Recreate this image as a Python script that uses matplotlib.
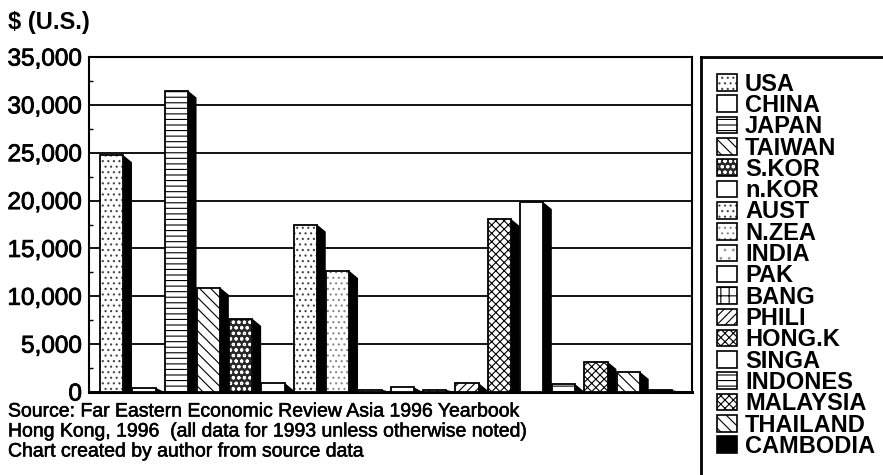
import matplotlib
matplotlib.use("Agg")
import matplotlib.pyplot as plt
import matplotlib.patheffects as pe
from matplotlib.patches import Rectangle
from matplotlib.lines import Line2D
import numpy as np

# data: GDP per capita, 1993
countries = ["USA", "CHINA", "JAPAN", "TAIWAN", "S.KOR", "n.KOR", "AUST", "N.ZEA",
             "INDIA", "PAK", "BANG", "PHILI", "HONG.K", "SINGA", "INDONES",
             "MALAYSIA", "THAILAND", "CAMBODIA"]
gdp = [24750, 450, 31500, 10900, 7650, 950, 17500, 12650,
       250, 500, 220, 950, 18100, 19850, 800,
       3150, 2100, 200]
y_ticks = [0, 5000, 10000, 15000, 20000, 25000, 30000, 35000]
y_label = "$ (U.S.)"
source_lines = [
    "Source: Far Eastern Economic Review Asia 1996 Yearbook",
    "Hong Kong, 1996  (all data for 1993 unless otherwise noted)",
    "Chart created by author from source data",
]

# fill styles (facecolor, hatch, hatch colour)
styles = [
    ("white", "...", "#444444"),   # USA
    ("white", "", "black"),        # CHINA
    ("white", "---", "black"),     # JAPAN
    ("white", "\\\\\\", "black"),  # TAIWAN
    ("#2a2a2a", "ooo", "white"),   # S.KOR
    ("white", "", "black"),        # n.KOR
    ("white", "...", "#444444"),   # AUST
    ("white", "...", "#888888"),   # N.ZEA
    ("white", "..", "#999999"),    # INDIA
    ("white", "", "black"),        # PAK
    ("white", "++", "black"),      # BANG
    ("white", "////", "black"),    # PHILI
    ("white", "xxxx", "black"),    # HONG.K
    ("white", "", "black"),        # SINGA
    ("white", "---", "black"),     # INDONES
    ("white", "xxxx", "black"),    # MALAYSIA
    ("white", "\\\\\\", "black"),  # THAILAND
    ("black", "", "black"),        # CAMBODIA
]

plt.rcParams["font.family"] = ["Liberation Sans", "DejaVu Sans"]
plt.rcParams["hatch.linewidth"] = 0.8

W, H = 883, 475
fig = plt.figure(figsize=(W / 100, H / 100), dpi=100)


def fx(px):
    return px / W


def fy(py):
    return 1 - py / H


heavy = [pe.withStroke(linewidth=0.6, foreground="black")]

ax = fig.add_axes([fx(89), fy(392), fx(692) - fx(89), fy(57) - fy(392)])

x = np.arange(len(countries))
face_w = 0.72
depth_x = 0.27
depth_y = 750

# shadow (3D side) drawn first
for xi, v in zip(x, gdp):
    xr = xi + face_w
    ax.fill([xr, xr + depth_x, xr + depth_x, xr],
            [v, max(v - depth_y, 0), 0, 0], color="black", lw=0, zorder=3)

for xi, v, (fc, hatch, hc) in zip(x, gdp, styles):
    ax.bar(xi, v, width=face_w, align="edge", color=fc, hatch=hatch,
           edgecolor=hc, linewidth=0, zorder=4)
ax.bar(x, gdp, width=face_w, align="edge", fill=False, edgecolor="black",
       linewidth=1.3, zorder=5)

ax.set_xlim(-0.34, 18.33)
ax.set_ylim(0, 35000)
ax.set_xticks([])
ax.set_yticks(y_ticks)
ax.set_yticklabels([f"{t:,}" for t in y_ticks], fontsize=17.5)
for lbl in ax.get_yticklabels():
    lbl.set_path_effects(heavy)
ax.set_yticks(np.arange(2500, 35000, 5000), minor=True)
ax.tick_params(axis="y", which="major", length=0, pad=5)
ax.tick_params(axis="y", which="minor", direction="in", length=3, width=1)
ax.grid(axis="y", which="major", color="black", linewidth=1.3, zorder=1)
for side in ["left", "right", "top"]:
    ax.spines[side].set_linewidth(1.5)
ax.spines["bottom"].set_linewidth(2.2)

fig.text(fx(8), fy(22), y_label, fontsize=17, fontweight="bold", va="center")

for i, line in enumerate(source_lines):
    fig.text(fx(8), fy(412 + 20 * i), line, fontsize=14, va="center",
             path_effects=[pe.withStroke(linewidth=0.4, foreground="black")])

# legend box (open to the right and bottom)
fig.add_artist(Line2D([fx(701), fx(701)], [fy(57), 0], color="black", lw=2,
                      transform=fig.transFigure))
fig.add_artist(Line2D([fx(701), 1], [fy(57), fy(57)], color="black", lw=2,
                      transform=fig.transFigure))

row_h = 21.3
for k, (name, (fc, hatch, hc)) in enumerate(zip(countries, styles)):
    base = 90.7 + k * row_h
    top = base - 16.5
    fig.add_artist(Rectangle((fx(717), fy(base)), fx(20), fy(top) - fy(base),
                             facecolor=fc, hatch=hatch, edgecolor=hc, lw=0,
                             transform=fig.transFigure))
    fig.add_artist(Rectangle((fx(717), fy(base)), fx(20), fy(top) - fy(base),
                             fill=False, edgecolor="black", lw=1.2,
                             transform=fig.transFigure))
    fig.text(fx(745), fy(base), name, fontsize=17, fontweight="bold",
             va="baseline", ha="left")

fig.savefig("out.png", dpi=100)
